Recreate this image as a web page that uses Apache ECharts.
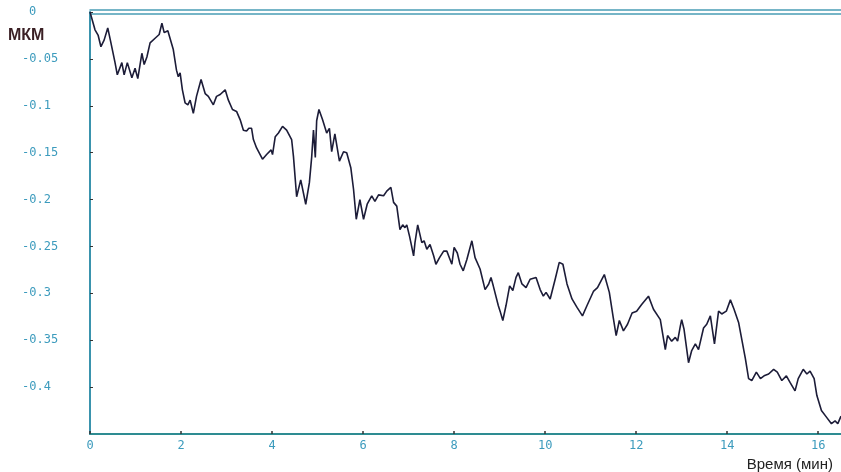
<!DOCTYPE html>
<html>
<head>
<meta charset="utf-8">
<script src="https://cdn.jsdelivr.net/npm/echarts@6/dist/echarts.min.js"></script>
<style>html,body{margin:0;padding:0;background:#fff}#c{width:841px;height:472px}</style>
</head>
<body>
<div id="c"></div>
<script>
var timeMin = [0,0.11,0.18,0.24,0.31,0.39,0.46,0.55,0.60,0.70,0.75,0.82,0.92,0.99,1.05,1.14,1.19,1.25,1.32,1.43,1.52,1.58,1.63,1.71,1.83,
  1.90,1.94,1.98,2.03,2.09,2.15,2.20,2.27,2.34,2.44,2.53,2.60,2.71,2.78,2.86,2.97,3.04,3.13,3.22,3.30,3.37,3.44,3.49,3.55,3.59,3.66,3.79,3.88,3.98,4.01,4.07,4.14,4.23,4.32,4.43,
  4.47,4.54,4.63,4.74,4.82,4.87,4.91,4.95,4.98,5.03,5.11,5.20,5.26,5.31,5.38,5.48,5.57,5.64,5.73,5.79,5.85,5.93,6.01,6.09,6.19,6.26,6.34,6.45,6.52,6.61,6.67,6.74,
  6.81,6.87,6.92,6.96,7.02,7.05,7.11,7.14,7.20,7.29,7.34,7.40,7.47,7.55,7.60,7.68,7.77,7.84,7.91,7.95,8.00,8.07,8.13,8.20,8.28,8.39,8.46,8.57,8.68,8.76,8.81,8.86,8.97,9.01,9.07,9.14,9.22,9.29,9.36,9.41,9.49,9.58,9.67,
  9.80,9.89,9.96,10.02,10.11,10.22,10.31,10.39,10.48,10.59,10.70,10.82,10.92,11.06,11.15,11.30,11.41,11.49,11.56,11.63,11.72,11.81,11.91,12.01,12.12,12.27,12.38,12.53,12.64,12.69,12.78,12.86,12.91,12.97,13.00,13.05,13.15,13.22,13.30,13.37,13.48,13.55,13.63,13.72,13.81,13.88,13.98,14.07,14.15,14.25,14.32,14.40,14.47,14.54,14.64,14.73,14.81,14.91,15.02,15.10,15.20,15.30,15.38,15.49,15.56,15.67,15.75,15.82,15.91,15.97,16.07,16.18,16.29,16.37,16.43,16.50];
var displacement = [0,-0.019,-0.025,-0.037,-0.030,-0.017,-0.033,-0.054,-0.067,-0.054,-0.067,-0.054,-0.070,-0.060,-0.071,-0.044,-0.056,-0.048,-0.033,-0.028,-0.024,-0.012,-0.022,-0.020,-0.040,
  -0.062,-0.069,-0.065,-0.083,-0.097,-0.099,-0.094,-0.108,-0.090,-0.072,-0.087,-0.090,-0.099,-0.090,-0.088,-0.083,-0.094,-0.104,-0.106,-0.115,-0.126,-0.127,-0.124,-0.124,-0.136,-0.145,-0.157,-0.152,-0.147,-0.152,-0.133,-0.129,-0.122,-0.126,-0.136,
  -0.154,-0.197,-0.179,-0.205,-0.182,-0.155,-0.126,-0.155,-0.116,-0.104,-0.115,-0.129,-0.124,-0.149,-0.130,-0.159,-0.149,-0.150,-0.166,-0.189,-0.221,-0.200,-0.221,-0.205,-0.196,-0.202,-0.195,-0.196,-0.191,-0.187,-0.203,-0.207,
  -0.232,-0.227,-0.230,-0.227,-0.239,-0.246,-0.260,-0.246,-0.227,-0.246,-0.244,-0.253,-0.248,-0.260,-0.269,-0.262,-0.255,-0.255,-0.264,-0.269,-0.251,-0.257,-0.269,-0.276,-0.264,-0.244,-0.262,-0.274,-0.296,-0.290,-0.283,-0.292,-0.313,-0.319,-0.329,-0.313,-0.292,-0.297,-0.283,-0.278,-0.290,-0.294,-0.285,
  -0.283,-0.296,-0.303,-0.299,-0.306,-0.285,-0.267,-0.269,-0.290,-0.306,-0.315,-0.324,-0.313,-0.298,-0.294,-0.280,-0.299,-0.324,-0.345,-0.329,-0.340,-0.333,-0.321,-0.319,-0.312,-0.303,-0.317,-0.328,-0.360,-0.345,-0.351,-0.347,-0.351,-0.335,-0.328,-0.338,-0.374,-0.361,-0.354,-0.360,-0.337,-0.333,-0.324,-0.354,-0.319,-0.322,-0.319,-0.307,-0.317,-0.331,-0.349,-0.370,-0.391,-0.393,-0.384,-0.391,-0.388,-0.386,-0.381,-0.384,-0.393,-0.388,-0.395,-0.404,-0.391,-0.381,-0.386,-0.383,-0.391,-0.409,-0.425,-0.432,-0.439,-0.436,-0.439,-0.431];
var xTicks = {min: 0, max: 16.5, interval: 2};
var yTicks = {min: -0.45, max: 0, interval: 0.05};
var yUnit = 'МКМ';
var xName = 'Время (мин)';

var chart = echarts.init(document.getElementById('c'), null, {renderer: 'canvas'});
var pts = timeMin.map(function (t, i) { return [t, displacement[i]]; });
var teal = '#3c9bbd';
var labelFont = '"DejaVu Sans Mono", monospace';
chart.setOption({
  animation: false,
  backgroundColor: '#fff',
  title: [
    {text: yUnit, left: 3, top: 23, textStyle: {fontFamily: 'Liberation Sans, Arial', fontSize: 16, fontWeight: 'bold', color: '#3a1f24'}},
    {text: xName, right: 3, top: 452, textStyle: {fontFamily: 'Liberation Sans, Arial', fontSize: 15, fontWeight: 'normal', color: '#222'}}
  ],
  grid: {left: 90, right: 0, top: 12, bottom: 38, containLabel: false},
  xAxis: [
    {type: 'value', min: xTicks.min, max: xTicks.max, interval: xTicks.interval, position: 'bottom',
     axisLine: {show: true, onZero: false, lineStyle: {color: '#2e8c92', width: 2}},
     axisTick: {show: true, inside: true, length: 3, lineStyle: {color: '#333', width: 1.5}},
     axisLabel: {color: teal, fontFamily: labelFont, fontSize: 12, margin: 6, showMaxLabel: false},
     splitLine: {show: false}},
    {type: 'value', min: xTicks.min, max: xTicks.max, position: 'top', offset: 2,
     axisLine: {show: true, onZero: false, lineStyle: {color: '#4a9db5', width: 1.5}},
     axisTick: {show: false}, axisLabel: {show: false}, splitLine: {show: false}},
    {type: 'value', min: xTicks.min, max: xTicks.max, position: 'top', offset: -2,
     axisLine: {show: true, onZero: false, lineStyle: {color: '#4a9db5', width: 1.5}},
     axisTick: {show: false}, axisLabel: {show: false}, splitLine: {show: false}}
  ],
  yAxis: {type: 'value', min: yTicks.min, max: yTicks.max, interval: yTicks.interval,
    axisLine: {show: true, onZero: false, lineStyle: {color: '#3a93ad', width: 2}},
    axisTick: {show: true, inside: true, length: 3, lineStyle: {color: '#333', width: 1}},
    axisLabel: {color: teal, fontFamily: labelFont, fontSize: 12, align: 'left', margin: 68, showMinLabel: false,
      formatter: function (v) { return v === 0 ? '{z|0}' : String(+v.toFixed(2)); },
      rich: {z: {padding: [0, 0, 0, 7], color: teal, fontFamily: labelFont, fontSize: 12}}},
    splitLine: {show: false}},
  series: [{type: 'line', data: pts, xAxisIndex: 0, showSymbol: false, symbol: 'none',
    lineStyle: {color: '#1c1c38', width: 1.6}, clip: false}]
});
</script>
</body>
</html>
